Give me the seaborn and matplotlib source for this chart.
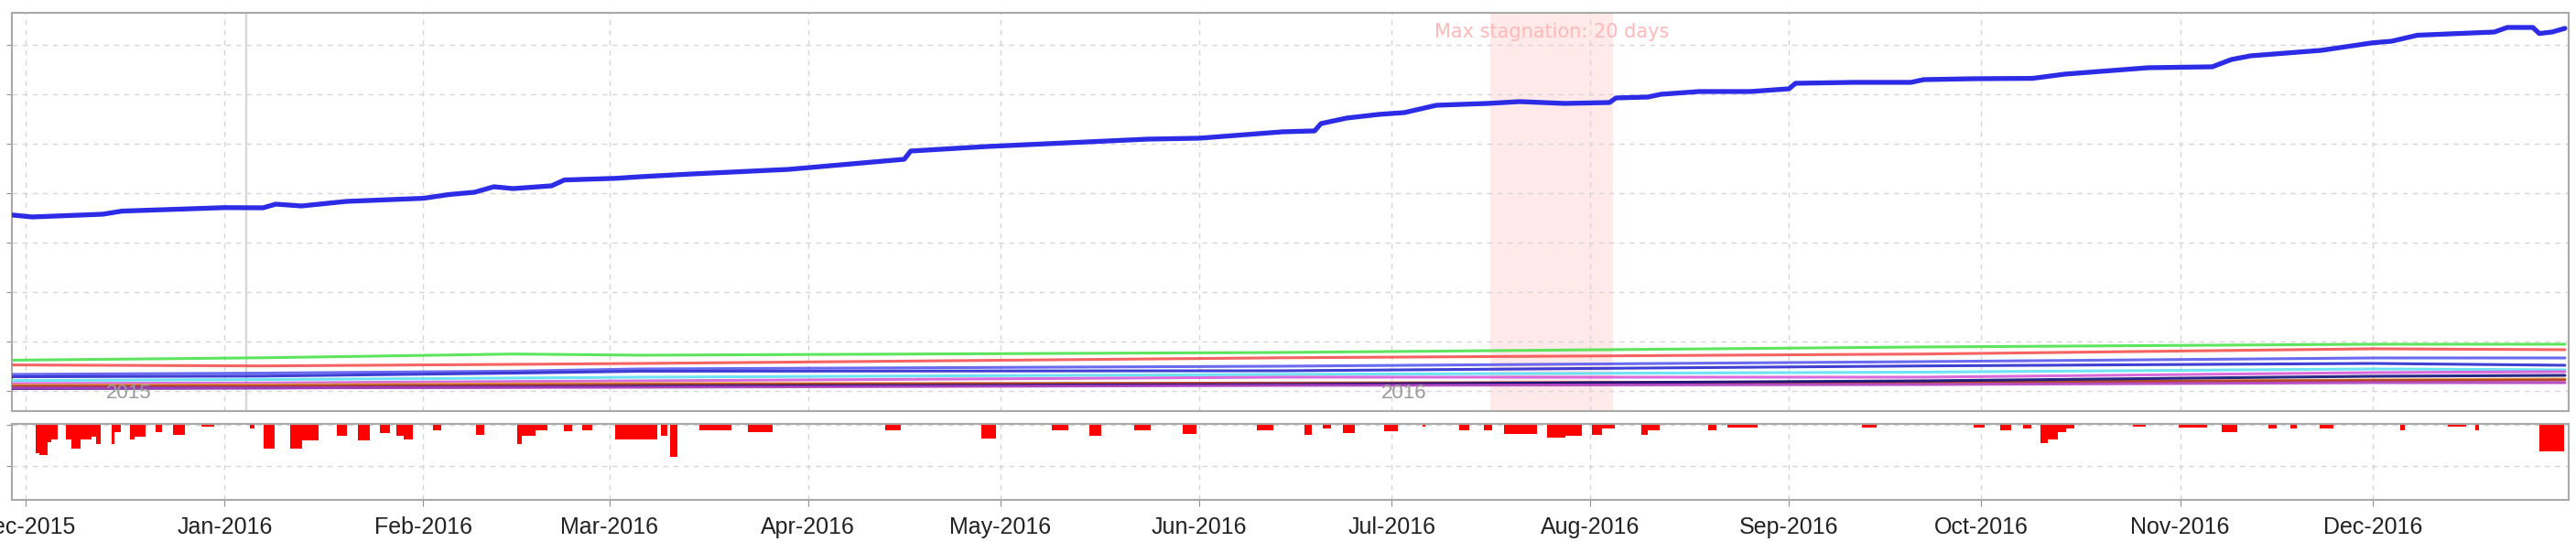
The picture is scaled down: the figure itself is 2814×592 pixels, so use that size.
import pandas as pd
import seaborn as sns
import matplotlib
matplotlib.use("Agg")
import matplotlib.pyplot as plt
import matplotlib.dates as mdates

# main equity curve
equity_dates = ['2015-11-28', '2015-12-02', '2015-12-13', '2015-12-16', '2016-01-01', '2016-01-07',
                '2016-01-09', '2016-01-13', '2016-01-20', '2016-02-01', '2016-02-05', '2016-02-09',
                '2016-02-12', '2016-02-15', '2016-02-21', '2016-02-23', '2016-03-02', '2016-03-06',
                '2016-03-14', '2016-03-29', '2016-04-16', '2016-04-17', '2016-04-29', '2016-05-24',
                '2016-06-01', '2016-06-14', '2016-06-19', '2016-06-20', '2016-06-24', '2016-06-29',
                '2016-07-03', '2016-07-08', '2016-07-16', '2016-07-21', '2016-07-28', '2016-08-04',
                '2016-08-05', '2016-08-10', '2016-08-12', '2016-08-18', '2016-08-26', '2016-09-01',
                '2016-09-02', '2016-09-11', '2016-09-20', '2016-09-22', '2016-09-30', '2016-10-09',
                '2016-10-14', '2016-10-27', '2016-11-06', '2016-11-09', '2016-11-12', '2016-11-23',
                '2016-12-01', '2016-12-04', '2016-12-08', '2016-12-20', '2016-12-22', '2016-12-26',
                '2016-12-27', '2016-12-29', '2016-12-31']
equity_values = [17843, 17593, 17870, 18185, 18537, 18518,
                 18889, 18704, 19167, 19481, 19861, 20093,
                 20648, 20463, 20741, 21333, 21500, 21667,
                 21944, 22407, 23426, 24259, 24722, 25463,
                 25556, 26204, 26296, 27037, 27593, 27963,
                 28148, 28889, 29074, 29259, 29074, 29167,
                 29630, 29722, 30000, 30278, 30278, 30556,
                 31111, 31204, 31204, 31481, 31574, 31611,
                 32037, 32685, 32778, 33519, 33889, 34444,
                 35204, 35370, 35972, 36296, 36759, 36759,
                 36148, 36296, 36667]

# per-symbol curves
symbol_dates = ['2015-11-28', '2016-01-07', '2016-02-15', '2016-03-06',
                '2016-06-14', '2016-09-22', '2016-12-01', '2016-12-31']
green_vals = [3102, 3352, 3731, 3611, 3889, 4444, 4722, 4722]
red_vals = [2630, 2528, 2685, 2778, 3352, 3731, 4259, 4167]
blue_vals = [1667, 1800, 2000, 2222, 2500, 2963, 3333, 3333]
blue2_vals = [1426, 1500, 1800, 1991, 2037, 2528, 2778, 2593]
cyan_vals = [1046, 1150, 1300, 1389, 1667, 1898, 2222, 2130]
magenta_vals = [741, 800, 950, 1019, 1389, 1389, 1852, 1944]
orange_vals = [556, 600, 700, 741, 741, 833, 1111, 1204]
darkred_vals = [463, 500, 600, 650, 800, 900, 1050, 1111]
navy_vals = [231, 300, 400, 463, 648, 1019, 1481, 1574]
purple_vals = [278, 300, 350, 370, 556, 648, 833, 833]

# drawdown episodes: start, length in days, depth
dd_start = ['2015-12-02 14:00', '2015-12-03 02:00', '2015-12-04 10:00', '2015-12-04 22:00',
            '2015-12-07 07:00', '2015-12-08 02:00', '2015-12-09 14:00', '2015-12-11 07:00',
            '2015-12-12 00:00', '2015-12-14 10:00', '2015-12-14 19:00', '2015-12-17 07:00',
            '2015-12-18 00:00', '2015-12-21 07:00', '2015-12-24 00:00', '2015-12-28 10:00',
            '2016-01-05 00:00', '2016-01-07 02:00', '2016-01-11 07:00', '2016-01-13 02:00',
            '2016-01-18 12:00', '2016-01-21 19:00', '2016-01-25 05:00', '2016-01-27 19:00',
            '2016-01-29 00:00', '2016-02-02 12:00', '2016-02-09 05:00', '2016-02-15 17:00',
            '2016-02-16 10:00', '2016-02-18 12:00', '2016-02-22 22:00', '2016-02-25 19:00',
            '2016-03-01 22:00', '2016-03-09 02:00', '2016-03-10 10:00', '2016-03-15 00:00',
            '2016-03-22 14:00', '2016-04-13 00:00', '2016-04-28 00:00', '2016-05-09 00:00',
            '2016-05-14 22:00', '2016-05-21 22:00', '2016-05-29 10:00', '2016-06-10 00:00',
            '2016-06-17 10:00', '2016-06-20 07:00', '2016-06-23 10:00', '2016-06-29 19:00',
            '2016-07-05 19:00', '2016-07-11 14:00', '2016-07-15 10:00', '2016-07-18 12:00',
            '2016-07-25 07:00', '2016-07-28 02:00', '2016-08-01 07:00', '2016-08-02 19:00',
            '2016-08-09 00:00', '2016-08-10 00:00', '2016-08-19 10:00', '2016-08-22 10:00',
            '2016-09-12 10:00', '2016-09-29 19:00', '2016-10-03 22:00', '2016-10-07 12:00',
            '2016-10-10 05:00', '2016-10-11 07:00', '2016-10-12 22:00', '2016-10-14 05:00',
            '2016-10-24 14:00', '2016-10-31 19:00', '2016-11-07 12:00', '2016-11-14 17:00',
            '2016-11-18 05:00', '2016-11-22 17:00', '2016-12-05 07:00', '2016-12-12 17:00',
            '2016-12-17 00:00', '2016-12-27 00:00']
dd_days = [0.5, 1.3, 0.5, 1.0, 0.8, 1.5, 1.7, 0.7, 0.7, 0.4, 1.0, 0.7, 1.7, 1.0, 1.8, 1.9,
           0.7, 1.7, 1.8, 2.6, 1.6, 1.9, 1.6, 1.2, 1.4, 1.3, 1.3, 0.7, 2.1, 1.9, 1.3, 1.6,
           6.6, 1.0, 1.2, 5.0, 3.9, 2.5, 2.3, 2.6, 1.8, 2.5, 2.2, 2.6,
           1.2, 1.3, 1.9, 2.2, 0.5, 1.5, 1.3, 5.2, 2.8, 2.6, 1.5, 2.0,
           1.0, 1.8, 1.3, 4.7, 2.2, 1.7, 1.7, 1.3, 1.1, 1.6, 1.3, 1.3,
           2.0, 4.4, 2.4, 1.3, 1.0, 2.2, 0.7, 2.9, 0.6, 3.9]
dd_depth = [689, 733, 422, 356, 356, 578, 356, 289, 467, 467, 178, 356, 289, 178, 244, 44,
            89, 578, 575, 388, 276, 388, 201, 276, 350, 127, 239, 463, 276, 127, 164, 127,
            350, 258, 774, 139, 179, 139, 337, 139, 258, 139, 218, 139,
            239, 90, 201, 164, 52, 127, 127, 216, 313, 276, 239, 90,
            239, 127, 127, 75, 75, 59, 143, 84, 454, 353, 185, 100,
            34, 59, 185, 84, 100, 84, 143, 34, 143, 647]

stagnation = ('2016-07-16 10:00', '2016-08-04 12:00')
year_sep = '2016-01-04 08:00'
year_labels = ['2015', '2016']
year_label_pos = ['2015-12-17', '2016-07-03']

symbol_df = pd.DataFrame({
    'date': pd.to_datetime(symbol_dates * 10),
    'value': (green_vals + red_vals + blue_vals + blue2_vals + cyan_vals + magenta_vals
              + orange_vals + darkred_vals + navy_vals + purple_vals),
    'series': [s for s in ['green', 'red', 'blue', 'blue2', 'cyan', 'magenta',
                           'orange', 'darkred', 'navy', 'purple'] for _ in symbol_dates],
})
palette = {'green': '#4ce34c', 'red': '#f55252', 'blue': '#5a5af0', 'blue2': '#2a2ad0',
           'cyan': '#5ee0f2', 'magenta': '#d85ad8', 'orange': '#eaa832', 'darkred': '#b03a2a',
           'navy': '#10107a', 'purple': '#b040c0'}

sns.set_style("white")
plt.rcParams['font.family'] = ['Liberation Sans', 'DejaVu Sans']

fig = plt.figure(figsize=(28.14, 5.92), dpi=100)
ax = fig.add_axes([0.00451, 0.2416, 0.99264, 0.7348])
ax2 = fig.add_axes([0.00451, 0.0777, 0.99264, 0.1402], sharex=ax)

frame = '#a9a9a9'
grid_kw = dict(color='#d6d6d6', linestyle=(0, (4, 4)), linewidth=1.0)

# top panel
ax.axvspan(pd.Timestamp(stagnation[0]), pd.Timestamp(stagnation[1]), color='#ffe9e9', lw=0, zorder=0)
ax.axvline(pd.Timestamp(year_sep), color='#d6d6d6', lw=1.6, zorder=1)
sns.lineplot(data=symbol_df, x='date', y='value', hue='series', palette=palette,
             linewidth=2.2, alpha=0.9, legend=False, ax=ax, zorder=3)
sns.lineplot(x=pd.to_datetime(equity_dates), y=equity_values, color='#2c2ce6',
             linewidth=3.8, ax=ax, zorder=4)

ax.set_ylim(-2037, 38241)
ax.set_yticks(range(0, 35001, 5000))
ax.set_yticklabels([])
ax.set_xlim(pd.Timestamp('2015-11-28 19:00'), pd.Timestamp('2016-12-31 14:00'))
ax.xaxis.set_major_locator(mdates.MonthLocator())
ax.grid(True, **grid_kw)
ax.tick_params(axis='x', length=0, labelbottom=False)
ax.tick_params(axis='y', length=4, color='#909090', left=True, direction='out')
ax.set_xlabel('')
ax.set_ylabel('')

mid = pd.Timestamp(stagnation[0]) + (pd.Timestamp(stagnation[1]) - pd.Timestamp(stagnation[0])) / 2
ax.text(mid, 0.952, 'Max stagnation: 20 days', transform=ax.get_xaxis_transform(),
        ha='center', va='center', fontsize=15, color='#ffb8b8', family='DejaVu Sans')
for lab, pos in zip(year_labels, year_label_pos):
    ax.text(pd.Timestamp(pos), 0.044, lab, transform=ax.get_xaxis_transform(),
            ha='center', va='center', fontsize=16, color='#9a9a9a')

# drawdown panel
ax2.bar(pd.to_datetime(dd_start), [-d for d in dd_depth],
        width=pd.to_timedelta(dd_days, unit='D'), align='edge', color='#ff0000', linewidth=0)
ax2.set_ylim(-1822, 22)
ax2.set_yticks([0, -1000])
ax2.set_yticklabels([])
ax2.grid(True, **grid_kw)
ax2.xaxis.set_major_locator(mdates.MonthLocator())
ax2.xaxis.set_major_formatter(mdates.DateFormatter('%b-%Y'))
ax2.tick_params(axis='x', length=5, color='#909090', bottom=True, direction='out',
                labelsize=18, pad=8, labelcolor='#222222')
ax2.tick_params(axis='y', length=4, color='#909090', left=True, direction='out')

for a in (ax, ax2):
    for sp in a.spines.values():
        sp.set_color(frame)
        sp.set_linewidth(1.5)

fig.savefig('out.png', dpi=100)
